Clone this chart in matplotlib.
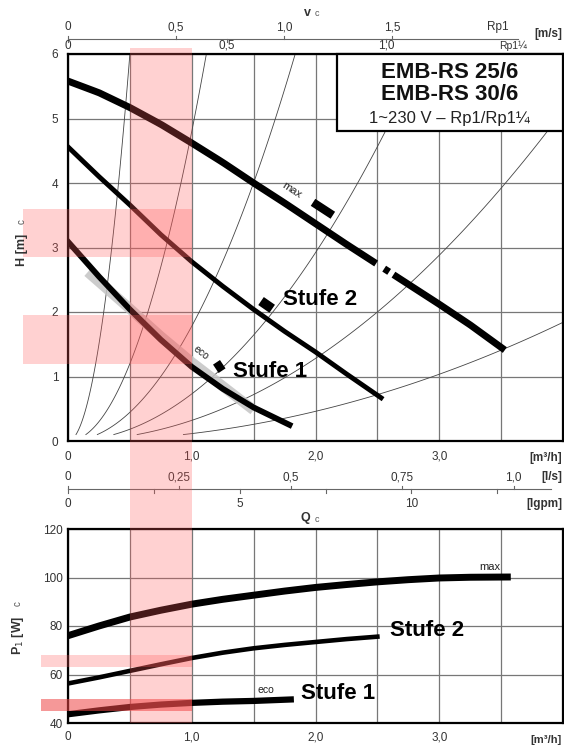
import numpy as np
import matplotlib
matplotlib.use('Agg')
import matplotlib.pyplot as plt
from matplotlib.patches import Rectangle
from matplotlib.transforms import blended_transform_factory

plt.rcParams['font.family'] = ['Liberation Sans', 'DejaVu Sans']

# Pumpenkennlinien H(Q) [m3/h -> m]
q_max = [0, 0.25, 0.5, 0.75, 1.0, 1.25, 1.5, 1.75, 2.0, 2.25, 2.5, 2.75, 3.0, 3.25, 3.53]
h_max = [5.58, 5.40, 5.17, 4.91, 4.62, 4.32, 4.0, 3.69, 3.37, 3.05, 2.74, 2.43, 2.12, 1.8, 1.41]
q_st2 = [0, 0.25, 0.5, 0.75, 1.0, 1.25, 1.5, 1.75, 2.0, 2.25, 2.53]
h_st2 = [4.56, 4.1, 3.66, 3.2, 2.78, 2.4, 2.04, 1.7, 1.38, 1.04, 0.67]
q_st1 = [0, 0.25, 0.5, 0.75, 1.0, 1.25, 1.5, 1.79]
h_st1 = [3.09, 2.55, 2.04, 1.57, 1.15, 0.81, 0.52, 0.25]
q_eco = [0.16, 0.5, 0.75, 1.0, 1.25, 1.5]
h_eco = [2.62, 2.05, 1.62, 1.22, 0.85, 0.48]
# Anlagenkennlinien H = k * Q^2
k_anlage = [24, 4.8, 1.78, 0.73, 0.32, 0.115]

# Leistungsaufnahme P1(Q) [W]
q_pmax = [0, 0.25, 0.5, 0.75, 1.0, 1.25, 1.5, 1.75, 2.0, 2.25, 2.5, 2.75, 3.0, 3.25, 3.55]
p_max = [76, 80.0, 83.7, 86.5, 89, 91, 92.7, 94.4, 95.9, 97.1, 98.2, 99.1, 99.8, 100.1, 100.2]
q_p2 = [0, 0.25, 0.5, 0.75, 1.0, 1.25, 1.5, 1.75, 2.0, 2.25, 2.5]
p_st2 = [56.3, 58.8, 61.5, 64.2, 66.8, 69.0, 70.8, 72.2, 73.4, 74.6, 75.6]
q_p1 = [0, 0.25, 0.5, 0.75, 1.0, 1.25, 1.5, 1.8]
p_st1 = [43.6, 45.2, 46.6, 47.6, 48.3, 48.8, 49.1, 49.7]

# markierte Bereiche
q_band = (0.5, 1.0)
h_bands = [(2.85, 3.6), (1.2, 1.95)]
p_bands = [(63, 68), (45, 50)]

# Zusatzskalen
v_rp1 = [0, 0.5, 1.0, 1.5]
v_rp114 = [0, 0.5, 1.0]
fak_rp1 = 1.745    # m3/h je m/s
fak_rp114 = 2.57
ls_werte = [0, 0.25, 0.5, 0.75, 1.0]
gpm_werte = [0, 5, 10]
gpm_ticks = [0, 2.5, 5, 7.5, 10, 12.5]
fak_gpm = 0.2775

W, H = 564, 745
def fbox(l, t, r, b):
    return [l / W, 1 - b / H, (r - l) / W, (b - t) / H]
def fy(py):
    return 1 - py / H

def komma(v):
    return '0' if v == 0 else f'{v:g}'.replace('.', ',') if v != int(v) else f'{v:.1f}'.replace('.', ',')

fig = plt.figure(figsize=(5.64, 7.45), dpi=100)
ax1 = fig.add_axes(fbox(68, 54, 563, 441))
ax2 = fig.add_axes(fbox(68, 529, 563, 723))

grau = '#333333'
for ax in (ax1, ax2):
    ax.set_xlim(0, 4)
    ax.set_xticks(np.arange(0, 4.0, 0.5))
    ax.set_xticklabels([komma(v) if v in (0, 1, 2, 3) else '' for v in np.arange(0, 4.0, 0.5)])
    ax.grid(True, color='#777777', lw=0.9)
    ax.set_axisbelow(True)
    for s in ax.spines.values():
        s.set_linewidth(1.6)
    ax.tick_params(length=0, labelsize=8.5, colors=grau)

ax1.set_ylim(0, 6)
ax1.set_yticks(range(7))
ax1.tick_params(axis='x', pad=7)
ax1.tick_params(axis='y', pad=7)
ax2.set_ylim(40, 120)
ax2.set_yticks([40, 60, 80, 100, 120])
ax2.tick_params(axis='x', pad=6)
ax2.tick_params(axis='y', pad=4)

kurve = dict(color='black', solid_joinstyle='round', zorder=3)

# Anlagenkennlinien
for k in k_anlage:
    q = np.linspace(np.sqrt(0.1 / k), min(4.0, np.sqrt(6.3 / k)), 120)
    ax1.plot(q, k * q ** 2, color='#444444', lw=0.6, zorder=2)

# eco-Bereich
ax1.plot(q_eco, h_eco, color='#c4c4c4', lw=7.5, alpha=0.85, zorder=2.5,
         solid_capstyle='butt', solid_joinstyle='round')

# max-Kurve mit Unterbrechung
for a, b in [(0, 2.49), (2.555, 2.595), (2.63, 3.53)]:
    q = np.linspace(a, b, 60)
    ax1.plot(q, np.interp(q, q_max, h_max), lw=5, solid_capstyle='butt', **kurve)
ax1.plot(q_st2, h_st2, lw=3.5, **kurve)
ax1.plot(q_st1, h_st1, lw=4.2, **kurve)

# kleine Markierungen
ax1.plot([1.98, 2.14], [3.70, 3.50], color='black', lw=6, solid_capstyle='butt', zorder=3)
ax1.plot([1.56, 1.65], [2.17, 2.05], color='black', lw=7, solid_capstyle='butt', zorder=3)
ax1.plot([1.20, 1.245], [1.22, 1.09], color='black', lw=6, solid_capstyle='butt', zorder=3)

ax1.text(1.81, 3.89, 'max', fontsize=8, rotation=-33, ha='center', va='center', color='#222222')
ax1.text(1.075, 1.37, 'eco', fontsize=7.5, rotation=-38, ha='center', va='center', color='#222222')
ax1.text(1.74, 2.19, 'Stufe 2', fontsize=16, fontweight='bold', ha='left', va='center')
ax1.text(1.33, 1.07, 'Stufe 1', fontsize=16, fontweight='bold', ha='left', va='center')

# Typenfeld
ax1.add_patch(Rectangle((2.17, 4.81), 4.0 - 2.17, 6 - 4.81, facecolor='white',
                        edgecolor='black', lw=1.6, zorder=7, clip_on=False))
xm = (2.17 + 4.0) / 2
tb1 = blended_transform_factory(ax1.transData, fig.transFigure)
ax1.text(xm, fy(72), 'EMB-RS 25/6', transform=tb1, fontsize=16, fontweight='bold', ha='center', va='center', zorder=8, color='#111111')
ax1.text(xm, fy(94), 'EMB-RS 30/6', transform=tb1, fontsize=16, fontweight='bold', ha='center', va='center', zorder=8, color='#111111')
ax1.text(xm, fy(118), '1~230 V – Rp1/Rp1¼', transform=tb1, fontsize=12, ha='center', va='center', zorder=8, color='#222222')

# Leistungskurven
ax2.plot(q_pmax, p_max, lw=5, **kurve)
ax2.plot(q_p2, p_st2, lw=3.3, **kurve)
ax2.plot(q_p1, p_st1, lw=4.5, **kurve)
ax2.text(3.41, 104.4, 'max', fontsize=8, ha='center', va='center', color='#222222')
ax2.text(2.6, 78, 'Stufe 2', fontsize=16, fontweight='bold', ha='left', va='center')
ax2.text(1.6, 53.7, 'eco', fontsize=7.5, ha='center', va='center', color='#222222')
ax2.text(1.88, 52, 'Stufe 1', fontsize=16, fontweight='bold', ha='left', va='center')

# Achsentitel
fig.text(22 / W, fy(250), 'H [m]', rotation=90, fontsize=9, fontweight='bold', ha='center', va='center', color=grau)
fig.text(22 / W, fy(222), 'c', rotation=90, fontsize=7, ha='center', va='center', color='#555555')
fig.text(18 / W, fy(635), 'P$_1$ [W]', rotation=90, fontsize=9, fontweight='bold', ha='center', va='center', color=grau)
fig.text(18 / W, fy(604), 'c', rotation=90, fontsize=7, ha='center', va='center', color='#555555')

# Geschwindigkeitsskala oben
ax1.plot([0, 3.64], [fy(39)] * 2, transform=tb1, clip_on=False, color='#666666', lw=0.8)
for v in v_rp1:
    ax1.plot([v * fak_rp1] * 2, [fy(39), fy(36)], transform=tb1, clip_on=False, color='#666666', lw=0.8)
    ax1.text(v * fak_rp1, fy(27), komma(v), transform=tb1, fontsize=8.5, ha='center', va='center', color=grau)
for v in v_rp114:
    ax1.plot([v * fak_rp114] * 2, [fy(39), fy(42)], transform=tb1, clip_on=False, color='#666666', lw=0.8)
    ax1.text(v * fak_rp114, fy(46), komma(v), transform=tb1, fontsize=8.5, ha='center', va='center', color=grau)
ax1.text(3.47, fy(27), 'Rp1', transform=tb1, fontsize=8.5, ha='center', va='center', color=grau)
ax1.text(3.6, fy(46), 'Rp1¼', transform=tb1, fontsize=7.5, ha='center', va='center', color=grau)
fig.text(562 / W, fy(34), '[m/s]', fontsize=8.5, fontweight='bold', ha='right', va='center', color=grau)
ax1.text(1.96, fy(13), 'v', transform=tb1, fontsize=9, fontweight='bold', ha='right', va='center', color=grau)
ax1.text(1.99, fy(14), 'c', transform=tb1, fontsize=6.5, ha='left', va='center', color='#555555')

# Durchflussskalen zwischen den Diagrammen
fig.text(562 / W, fy(458), '[m³/h]', fontsize=8.5, fontweight='bold', ha='right', va='center', color=grau)
fig.text(562 / W, fy(740), '[m³/h]', fontsize=8, fontweight='bold', ha='right', va='center', color=grau)
ax1.plot([0, 3.9], [fy(489)] * 2, transform=tb1, clip_on=False, color='#666666', lw=0.8)
for v in ls_werte:
    ax1.plot([v * 3.6] * 2, [fy(489), fy(486)], transform=tb1, clip_on=False, color='#666666', lw=0.8)
    ax1.text(v * 3.6, fy(477), komma(v), transform=tb1, fontsize=8.5, ha='center', va='center', color=grau)
for g in gpm_ticks:
    ax1.plot([g * fak_gpm] * 2, [fy(489), fy(493)], transform=tb1, clip_on=False, color='#666666', lw=0.8)
for g in gpm_werte:
    ax1.text(g * fak_gpm, fy(504), str(g), transform=tb1, fontsize=8.5, ha='center', va='center', color=grau)
fig.text(562 / W, fy(477), '[l/s]', fontsize=8.5, fontweight='bold', ha='right', va='center', color=grau)
fig.text(562 / W, fy(504), '[lgpm]', fontsize=8.5, fontweight='bold', ha='right', va='center', color=grau)
ax1.text(1.96, fy(518), 'Q', transform=tb1, fontsize=9, fontweight='bold', ha='right', va='center', color=grau)
ax1.text(1.99, fy(519), 'c', transform=tb1, fontsize=6.5, ha='left', va='center', color='#555555')

# rote Markierungen
rot = '#ff5a5a'
for h0, h1 in h_bands:
    ax1.add_patch(Rectangle((-0.36, h0), q_band[1] + 0.36, h1 - h0, facecolor=rot,
                            alpha=0.28, lw=0, zorder=5, clip_on=False))
ax2.add_patch(Rectangle((-0.22, p_bands[0][0]), q_band[1] + 0.22, p_bands[0][1] - p_bands[0][0],
                        facecolor=rot, alpha=0.28, lw=0, zorder=5, clip_on=False))
ax2.add_patch(Rectangle((-0.22, p_bands[1][0]), q_band[1] + 0.22, p_bands[1][1] - p_bands[1][0],
                        facecolor='#ee4444', alpha=0.55, lw=0, zorder=5, clip_on=False))
fig.patches.append(Rectangle((q_band[0], fy(723)), q_band[1] - q_band[0], (723 - 48) / H,
                             transform=tb1, facecolor=rot, alpha=0.28, lw=0, zorder=5, figure=fig))

fig.savefig('out.png', dpi=100)
